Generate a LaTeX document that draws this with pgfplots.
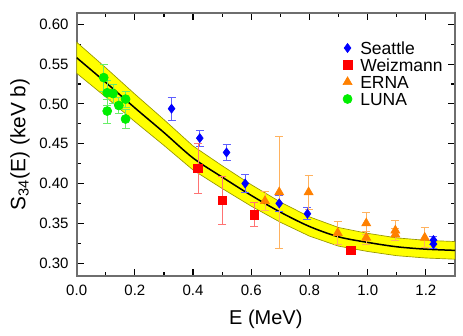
\documentclass[border=0pt]{standalone}
\usepackage{fontspec}
\setmainfont{Liberation Sans}
\setsansfont{Liberation Sans}
\usepackage{pgfplots}
\usepackage{pgfplotstable}
\pgfplotsset{compat=1.18}

\definecolor{seablue}{RGB}{0,0,255}
\definecolor{seabar}{RGB}{95,95,255}
\definecolor{weired}{RGB}{255,0,0}
\definecolor{weibar}{RGB}{255,115,115}
\definecolor{ernaor}{RGB}{255,128,0}
\definecolor{ernabar}{RGB}{255,178,95}
\definecolor{lunagr}{RGB}{0,238,0}
\definecolor{lunabar}{RGB}{105,238,105}
\definecolor{bandfill}{RGB}{255,255,0}
\definecolor{bandedge}{RGB}{150,150,0}
\definecolor{axisgray}{RGB}{110,110,110}

% fit curve
\pgfplotstableread{
E    S
0.00 0.558
0.10 0.527
0.20 0.495
0.30 0.464
0.40 0.432
0.50 0.408
0.60 0.385
0.70 0.364
0.80 0.346
0.90 0.333
1.00 0.326
1.10 0.3205
1.20 0.3175
1.30 0.316
}\fitcurve

% band: upper edge left to right, lower edge right to left
\pgfplotstableread{
E    S
0.00 0.5775
0.10 0.5454
0.20 0.5123
0.30 0.4802
0.40 0.4471
0.50 0.4223
0.60 0.3985
0.70 0.3767
0.80 0.3581
0.90 0.3447
1.00 0.3374
1.10 0.3317
1.20 0.3286
1.30 0.3271
1.30 0.3049
1.20 0.3064
1.10 0.3093
1.00 0.3146
0.90 0.3213
0.80 0.3339
0.70 0.3513
0.60 0.3715
0.50 0.3937
0.40 0.4169
0.30 0.4478
0.20 0.4777
0.10 0.5086
0.00 0.5385
}\band

\pgfplotstableread{
E     S     err
0.326 0.494 0.0145
0.423 0.457 0.010
0.515 0.439 0.0095
0.579 0.400 0.011
0.696 0.375 0.010
0.793 0.362 0.0075
1.226 0.329 0.005
1.226 0.324 0.005
}\seattle

\pgfplotstableread{
E     S     err
0.417 0.419 0.031
0.501 0.379 0.030
0.610 0.361 0.015
0.943 0.316 0.004
}\weizmann

\pgfplotstableread{
E     S     err
0.647 0.378 0.012
0.696 0.389 0.070
0.797 0.389 0.021
0.897 0.338 0.015
0.995 0.350 0.0135
0.995 0.332 0.008
1.095 0.341 0.013
1.095 0.336 0.008
1.196 0.332 0.0125
}\erna

\pgfplotstableread{
E     S     err
0.093 0.533 0.017
0.105 0.514 0.016
0.125 0.513 0.012
0.145 0.498 0.010
0.168 0.506 0.010
0.105 0.491 0.015
0.168 0.481 0.012
}\luna

\begin{document}
\begin{tikzpicture}
\useasboundingbox (-46pt,-35.4pt) rectangle (231.8pt,165.6pt);
\begin{axis}[
    at={(0pt,0pt)}, anchor=south west,
    scale only axis,
    width=227pt, height=158pt,
    xmin=0, xmax=1.3,
    ymin=0.2838, ymax=0.6146,
    xtick={0,0.2,0.4,0.6,0.8,1.0,1.2},
    ytick={0.30,0.35,0.40,0.45,0.50,0.55,0.60},
    minor x tick num=1, minor y tick num=1,
    tick align=inside,
    major tick length=4.2pt, minor tick length=2.7pt,
    axis line style={axisgray, line width=1.2pt},
    tick style={black, line width=0.7pt},
    /pgf/number format/assume math mode=true,
    xticklabel style={font=\fontsize{9}{10}\selectfont, yshift=-2pt,
        /pgf/number format/.cd, fixed, fixed zerofill, precision=1},
    yticklabel style={font=\fontsize{9}{10}\selectfont, xshift=-1.4pt,
        /pgf/number format/.cd, fixed, fixed zerofill, precision=2},
    xlabel={E (MeV)},
    ylabel={S\textsubscript{34}(E) (keV b)},
    xlabel style={font=\fontsize{12}{14}\selectfont,
        at={(axis description cs:0.5,-0.163)}, anchor=center},
    ylabel style={font=\fontsize{12.5}{14}\selectfont,
        at={(axis description cs:-0.15,0.5)}, anchor=center},
    legend style={draw=none, fill=none,
        at={(axis description cs:0.69,0.912)}, anchor=north west,
        font=\fontsize{10.5}{12}\selectfont,
        nodes={inner sep=1.45pt, text height=7.3pt, text depth=0pt},
        row sep=0pt, column sep=3.5pt},
    legend cell align=left,
]
% yellow band and fit
\addplot[fill=bandfill, draw=bandedge, line width=0.4pt, forget plot]
    table[x=E, y=S]{\band} -- cycle;
\addplot[black, line width=0.9pt, smooth, forget plot] table[x=E, y=S]{\fitcurve};

% data sets
\addplot[only marks, mark=diamond*, mark size=2.7pt, color=seablue,
    error bars/.cd, y dir=both, y explicit,
    error bar style={seabar, line width=0.5pt},
    error mark options={rotate=90, seabar, mark size=2.4pt, line width=0.5pt}]
    table[x=E, y=S, y error=err]{\seattle};
\addplot[only marks, mark=square*, mark size=2.6pt, color=weired,
    error bars/.cd, y dir=both, y explicit,
    error bar style={weibar, line width=0.5pt},
    error mark options={rotate=90, weibar, mark size=2.4pt, line width=0.5pt}]
    table[x=E, y=S, y error=err]{\weizmann};
\addplot[only marks, mark=triangle*, mark size=3.1pt, color=ernaor,
    error bars/.cd, y dir=both, y explicit,
    error bar style={ernabar, line width=0.5pt},
    error mark options={rotate=90, ernabar, mark size=2.4pt, line width=0.5pt}]
    table[x=E, y=S, y error=err]{\erna};
\addplot[only marks, mark=*, mark size=2.7pt, color=lunagr,
    error bars/.cd, y dir=both, y explicit,
    error bar style={lunabar, line width=0.5pt},
    error mark options={rotate=90, lunabar, mark size=2.4pt, line width=0.5pt}]
    table[x=E, y=S, y error=err]{\luna};
\legend{Seattle, Weizmann, ERNA, LUNA}
\end{axis}
\end{tikzpicture}
\end{document}
